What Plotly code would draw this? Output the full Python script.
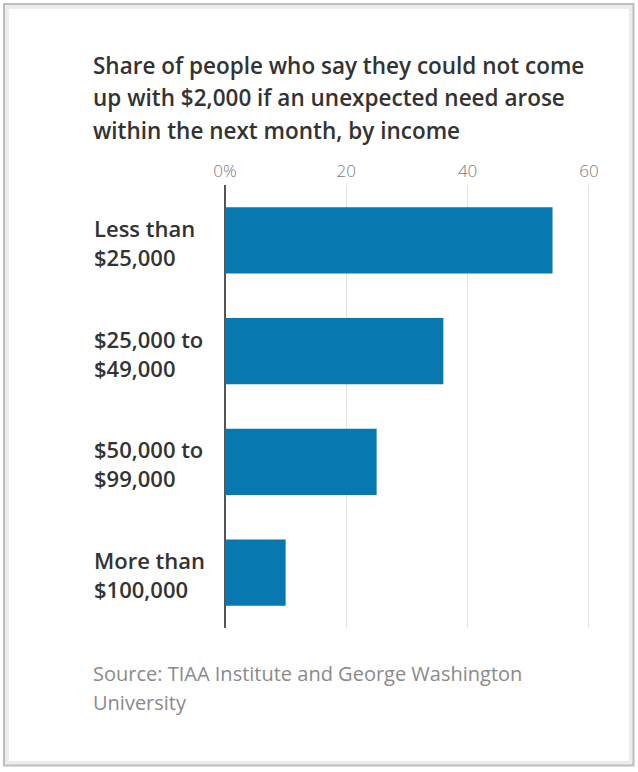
import plotly.graph_objects as go

categories = ["Less than<br>$25,000", "$25,000 to<br>$49,000", "$50,000 to<br>$99,000", "More than<br>$100,000"]
values = [54, 36, 25, 10]
tick_vals = [0, 20, 40, 60]
tick_text = ["0%", "20", "40", "60"]
title_lines = ["Share of people who say they could not come",
               "up with $2,000 if an unexpected need arose",
               "within the next month, by income"]
source_lines = ["Source: TIAA Institute and George Washington", "University"]

W, H = 638, 772
L, R, T, B = 225, 43, 185, 144
PW, PH = W - L - R, H - T - B

def px(x):
    return (x - L) / PW

def py(y):
    return (H - B - y) / PH

fig = go.Figure(go.Bar(
    x=values, y=categories, orientation="h",
    marker=dict(color="#0779b0", line=dict(width=0)),
    hoverinfo="skip",
))

FONT = "Open Sans"
ann = []
for i, t in enumerate(title_lines):
    ann.append(dict(text=t, x=px(91), y=py(65 + i * 32.5), xref="paper", yref="paper",
                    xanchor="left", yanchor="middle", showarrow=False,
                    font=dict(family=FONT, size=22.5, color="#333333", weight=600)))
for i, t in enumerate(source_lines):
    ann.append(dict(text=t, x=px(91), y=py(673 + i * 29), xref="paper", yref="paper",
                    xanchor="left", yanchor="middle", showarrow=False,
                    font=dict(family=FONT, size=20, color="#8a8a8a")))
for c in categories:
    ann.append(dict(text=c, x=px(93), y=c, xref="paper", yref="y",
                    xanchor="left", yanchor="middle", align="left", showarrow=False,
                    yshift=-2, borderpad=0,
                    font=dict(family=FONT, size=22, color="#333333", weight=600)))

shapes = [
    dict(type="rect", xref="paper", yref="paper", x0=px(7), x1=px(631), y0=py(7), y1=py(763),
         line=dict(color="#ececec", width=4), fillcolor="rgba(0,0,0,0)", layer="below"),
    dict(type="rect", xref="paper", yref="paper", x0=px(4), x1=px(633.5), y0=py(4), y1=py(765.5),
         line=dict(color="#bdbdbd", width=2), fillcolor="rgba(0,0,0,0)", layer="below"),
]

fig.update_layout(
    width=W, height=H,
    margin=dict(l=L, r=R, t=T, b=B),
    paper_bgcolor="white", plot_bgcolor="white",
    showlegend=False,
    bargap=0.4,
    annotations=ann,
    shapes=shapes,
    xaxis=dict(range=[0, 61], side="top", tickvals=tick_vals, ticktext=tick_text,
               showgrid=True, gridcolor="#e3e3e3", gridwidth=1,
               zeroline=True, zerolinecolor="#555555", zerolinewidth=1.5,
               showline=False, ticks="", ticklabelstandoff=4,
               tickfont=dict(family=FONT, size=17, color="#7a7a7a", weight=300), fixedrange=True),
    yaxis=dict(categoryorder="array", categoryarray=categories, autorange="reversed",
               showticklabels=False, showgrid=False, zeroline=False, showline=False,
               fixedrange=True),
)

fig.write_html("out.html", config={"displayModeBar": False},
               post_script="document.body.style.margin='0';document.body.style.overflow='hidden';")
